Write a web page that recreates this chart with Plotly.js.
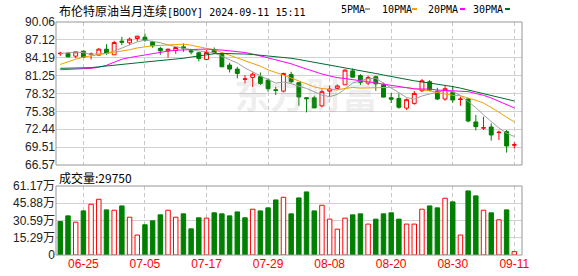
<!DOCTYPE html>
<html>
<head>
<meta charset="utf-8">
<script src="https://cdn.plot.ly/plotly-3.0.1.min.js"></script>
<style>
html,body{margin:0;padding:0;background:#ffffff;}
#chart{width:578px;height:276px;}
</style>
</head>
<body>
<div id="chart"></div>
<script>
// ---------- data ----------
const chartTitleName = '布伦特原油当月连续';
const chartTitleCode = '[BOOY] 2024-09-11 15:11';
const volumeLabel = '成交量';

const dates = ['06-20','06-21','06-24','06-25','06-26','06-27','06-28',
  '07-01','07-02','07-03','07-04','07-05','07-08','07-09','07-10','07-11','07-12',
  '07-15','07-16','07-17','07-18','07-19','07-22','07-23','07-24','07-25','07-26',
  '07-29','07-30','07-31','08-01','08-02','08-05','08-06','08-07','08-08','08-09',
  '08-12','08-13','08-14','08-15','08-16','08-19','08-20','08-21','08-22','08-23',
  '08-26','08-27','08-28','08-29','08-30','09-02','09-03','09-04','09-05','09-06',
  '09-09','09-10','09-11'];

const openP = [84.85,84.89,84.45,85.27,84.72,84.62,85.60,84.67,86.91,86.64,
  87.35,87.57,86.80,85.71,85.33,85.38,85.98,85.33,85.00,83.91,
  85.44,84.89,82.98,82.32,80.65,80.96,81.07,80.52,78.93,78.71,
  81.45,80.10,77.62,77.60,76.28,78.70,79.15,79.75,82.03,81.25,
  80.02,81.07,79.75,77.62,77.50,75.92,76.69,78.77,80.25,78.70,
  77.40,78.50,77.33,77.41,73.64,72.62,72.81,71.88,72.05,69.82];
const highP = [85.16,85.16,85.20,85.38,85.05,85.76,86.42,86.97,87.62,87.51,
  87.79,88.17,86.97,85.98,85.66,85.87,86.53,85.55,85.16,85.44,
  85.87,85.05,83.36,82.70,81.34,81.77,81.77,80.79,79.43,81.72,
  81.89,80.14,77.68,77.95,78.99,79.60,79.81,82.27,82.43,81.50,
  81.23,81.23,80.08,78.40,78.30,77.50,78.72,80.68,80.52,79.26,
  79.54,79.50,77.80,77.57,74.78,74.50,73.42,72.21,72.32,70.28];
const lowP = [84.51,84.23,84.10,84.23,83.91,84.56,84.67,84.67,86.26,86.31,
  86.86,86.80,85.82,84.67,84.23,84.84,85.16,84.73,83.58,83.91,
  84.78,82.70,81.77,80.79,79.97,79.37,79.70,78.61,78.06,78.50,
  79.97,76.30,75.22,75.90,76.04,77.77,78.99,79.70,80.93,79.70,
  79.70,78.77,77.68,76.75,75.80,75.60,76.47,78.55,78.66,77.24,
  77.13,76.80,76.30,73.58,72.25,72.32,70.58,70.68,68.61,69.30];
const closeP = [84.92,84.34,85.16,84.29,84.78,85.60,84.89,86.69,86.75,87.24,
  87.73,87.08,86.15,85.33,85.60,85.87,85.76,85.16,84.07,85.05,
  85.00,82.70,82.32,81.61,80.70,81.50,79.97,79.10,78.82,81.61,
  80.25,77.75,77.46,75.95,78.61,79.05,79.55,82.16,81.00,80.15,
  80.93,79.90,77.72,77.38,76.06,77.30,78.33,80.41,78.88,77.41,
  79.10,77.25,77.40,73.80,72.87,72.70,71.50,71.95,69.70,69.90];

// volume (lots)
const volume = [297000,347000,291000,391000,450000,494000,400000,397000,435000,335000,
  177000,268000,303000,356000,397000,335000,365000,232000,330000,327000,
  374000,365000,347000,382000,330000,406000,391000,418000,488000,512000,
  365000,506000,559000,391000,441000,318000,229000,327000,356000,365000,
  274000,318000,365000,374000,318000,274000,274000,406000,435000,418000,
  503000,471000,177000,568000,524000,397000,374000,312000,400000,29750];
// 1 = rising volume bar (red, hollow), 0 = falling (green, filled)
const volumeRise = [0,0,1,0,1,1,0,1,0,1, 1,0,0,0,1,1,0,0,0,1,
  0,0,0,0,0,1,0,0,0,1, 0,0,0,0,1,1,1,1,0,0,
  1,0,0,0,0,1,1,1,0,0, 1,0,1,0,0,1,0,1,0,1];

const ma5 = [84.89,85.03,85.12,85.02,84.73,84.85,84.89,85.28,85.75,86.28,
  86.80,87.10,86.92,86.65,86.30,86.00,85.74,85.54,85.29,85.18,
  85.01,84.40,83.83,83.34,82.50,81.80,81.22,80.60,80.02,80.20,
  79.95,79.50,79.15,78.60,78.05,77.80,78.15,79.05,80.05,80.40,
  80.75,80.82,80.00,79.25,78.45,77.65,77.40,77.90,78.25,78.55,
  78.80,78.60,78.00,77.00,76.00,74.80,73.70,72.65,71.80,71.25];
const ma10 = [83.09,83.55,83.95,84.30,84.50,84.70,84.85,85.10,85.30,85.50,
  85.80,86.00,86.15,86.22,86.28,86.30,86.42,86.25,85.95,85.72,
  85.50,85.05,84.65,84.25,83.80,83.35,82.80,82.20,81.70,81.33,
  80.86,80.37,79.90,79.40,79.12,78.95,78.90,79.15,79.30,79.20,
  79.25,79.28,79.30,79.32,79.35,79.27,79.12,78.95,78.75,78.48,
  78.28,78.02,77.95,77.60,77.20,76.75,76.05,75.25,74.40,73.65];
const ma20 = [82.22,82.25,82.30,82.36,82.45,82.62,82.95,83.45,83.95,84.22,
  84.45,84.68,84.90,85.10,85.28,85.42,85.50,85.55,85.58,85.60,
  85.55,85.45,85.32,85.20,85.05,84.80,84.50,84.20,83.88,83.56,
  83.20,82.75,82.30,81.88,81.52,81.20,80.92,80.77,80.62,80.40,
  80.20,80.05,79.85,79.63,79.40,79.20,79.08,79.05,79.03,78.88,
  78.82,78.77,78.75,78.62,78.32,78.02,77.58,77.05,76.50,75.95];
const ma30 = [82.45,82.45,82.47,82.50,82.56,82.70,82.85,82.98,83.10,83.22,
  83.35,83.48,83.60,83.70,83.80,83.90,84.10,84.30,84.50,84.65,
  84.85,84.90,84.90,84.88,84.80,84.72,84.62,84.50,84.37,84.22,
  84.10,83.90,83.68,83.45,83.25,83.02,82.80,82.58,82.35,82.10,
  81.85,81.60,81.35,81.10,80.85,80.55,80.40,80.22,80.05,79.88,
  79.68,79.45,79.20,78.90,78.60,78.30,78.00,77.70,77.40,77.08];

const maNames = ['5PMA','10PMA','20PMA','30PMA'];
const priceTicks = [66.57,69.51,72.44,75.38,78.32,81.25,84.19,87.12,90.06];
const volumeTicks = [0,152900,305900,458800,611700];
const volumeTickText = ['0','15.29万','30.59万','45.88万','61.17万'];
const dateTicks = ['06-25','07-05','07-17','07-29','08-08','08-20','08-30','09-11'];

// ---------- styles ----------
const RED = '#ff0000', GREEN = '#008000';
const maColors = ['#a0a0a0','#f0a000','#ff00ff','#006a30'];
const W = 578, H = 276, L = 56, R = 56, T = 22, B = 21;
const pw = W - L - R, ph = H - T - B;
const px = x => (x - L) / pw;           // pixel -> paper x
const py = y => (H - B - y) / ph;       // pixel -> paper y
const priceDomain = [py(165), 1];
const volDomain = [0, py(186)];

const traces = [];
traces.push({
  type: 'candlestick', x: dates, open: openP, high: highP, low: lowP, close: closeP,
  xaxis: 'x', yaxis: 'y', whiskerwidth: 0, hoverinfo: 'skip',
  increasing: {line: {color: RED, width: 1}, fillcolor: '#ffffff'},
  decreasing: {line: {color: GREEN, width: 1}, fillcolor: GREEN}
});
[ma5, ma10, ma20, ma30].forEach((arr, i) => {
  traces.push({type: 'scatter', mode: 'lines', x: dates, y: arr, name: maNames[i],
    xaxis: 'x', yaxis: 'y', line: {color: maColors[i], width: 1}, hoverinfo: 'skip'});
});
traces.push({
  type: 'bar', x: dates, y: volume, xaxis: 'x', yaxis: 'y2', width: 0.58,
  marker: {color: volumeRise.map(u => u ? '#ffffff' : GREEN),
           line: {color: volumeRise.map(u => u ? RED : GREEN), width: 1}},
  hoverinfo: 'skip'
});

const borderColor = '#969696';
const shapes = [
  {type: 'rect', xref: 'paper', yref: 'paper', x0: 0, x1: 1, y0: priceDomain[0], y1: priceDomain[1],
   line: {color: borderColor, width: 1}, layer: 'above'},
  {type: 'rect', xref: 'paper', yref: 'paper', x0: 0, x1: 1, y0: volDomain[0], y1: volDomain[1],
   line: {color: borderColor, width: 1}, layer: 'above'}
];
const legendTextX = [338.7, 380, 425.5, 471];
const legendDashX = [365, 412, 460, 505];
const annotations = [
  {xref: 'paper', yref: 'paper', x: px(57), y: py(10.5), xanchor: 'left', yanchor: 'middle',
   text: chartTitleName + '<span style="font-family:DejaVu Sans Mono;font-size:10px">' + chartTitleCode + '</span>',
   showarrow: false, font: {family: 'Noto Sans CJK SC', size: 12, color: '#000000'}},
  {xref: 'paper', yref: 'paper', x: px(57), y: py(177.5), xanchor: 'left', yanchor: 'middle',
   text: volumeLabel + ':' + volume[volume.length - 1], showarrow: false,
   font: {family: 'Noto Sans CJK SC', size: 12, color: '#000000'}},
  {xref: 'paper', yref: 'paper', x: px(306), y: py(93), xanchor: 'center', yanchor: 'middle',
   text: '东方财富', showarrow: false,
   font: {family: 'Noto Sans CJK SC', size: 36, color: 'rgba(150,150,150,0.16)', weight: 'bold'}}
];
maNames.forEach((n, i) => {
  annotations.push({xref: 'paper', yref: 'paper', x: px(legendTextX[i]), y: py(9.5), xanchor: 'left',
    yanchor: 'middle', text: n, showarrow: false,
    font: {family: 'DejaVu Sans Mono', size: 10, color: '#000000'}});
  shapes.push({type: 'rect', xref: 'paper', yref: 'paper', x0: px(legendDashX[i]), x1: px(legendDashX[i] + 5),
    y0: py(10), y1: py(8), fillcolor: maColors[i], line: {width: 0}});
});

const tickFont = {family: 'Liberation Sans, Noto Sans CJK SC', size: 12, color: '#222222'};
const layout = {
  width: W, height: H, margin: {l: L, r: R, t: T, b: B, pad: 0},
  paper_bgcolor: '#ffffff', plot_bgcolor: '#ffffff', showlegend: false, hovermode: false,
  boxgap: 0.28, boxgroupgap: 0.3,
  xaxis: {type: 'category', range: [-0.56, 60.0], anchor: 'y2', tickvals: dateTicks, ticktext: dateTicks,
    showgrid: true, gridcolor: '#c8c8c8', griddash: '4px,3px', gridwidth: 1, ticks: '',
    tickfont: {family: 'Liberation Sans', size: 12, color: RED}, showline: false, zeroline: false,
    rangeslider: {visible: false}, fixedrange: true},
  yaxis: {domain: priceDomain, range: [priceTicks[0], priceTicks[priceTicks.length - 1]],
    tickvals: priceTicks, ticktext: priceTicks.map(v => v.toFixed(2)), showgrid: true,
    gridcolor: '#d2d2d2', gridwidth: 1, zeroline: false, showline: false, ticks: '', tickfont: tickFont,
    fixedrange: true},
  yaxis2: {domain: volDomain, range: [volumeTicks[0], volumeTicks[volumeTicks.length - 1]],
    tickvals: volumeTicks, ticktext: volumeTickText, showgrid: true, gridcolor: '#d2d2d2', gridwidth: 1,
    zeroline: false, showline: false, ticks: '', tickfont: tickFont, fixedrange: true},
  shapes: shapes,
  annotations: annotations
};

Plotly.newPlot('chart', traces, layout, {staticPlot: true, displayModeBar: false});
</script>
</body>
</html>
